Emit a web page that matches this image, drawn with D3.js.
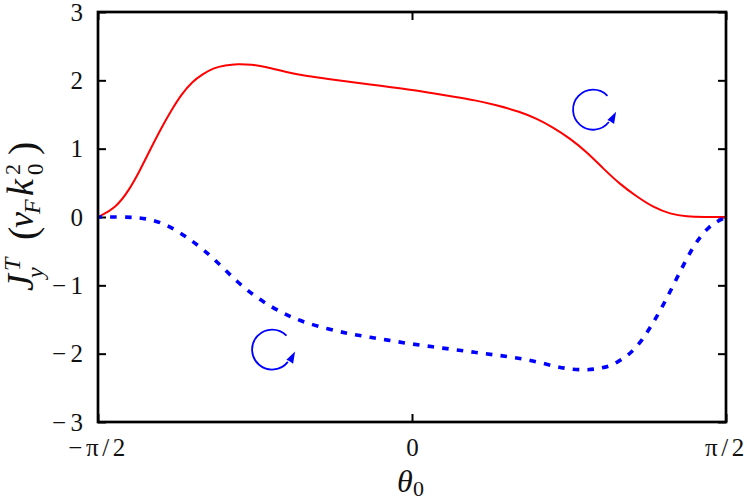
<!DOCTYPE html>
<html><head><meta charset="utf-8">
<script src="https://cdn.jsdelivr.net/npm/d3@7"></script>
<style>html,body{margin:0;background:#fff}svg{display:block}text{font-family:"Liberation Serif",serif;fill:#111}</style>
</head><body><svg id="c" width="747" height="501"></svg>
<script>
const redTheta=[-90,-85,-81,-78,-75,-72,-69,-66,-63,-60,-57,-53.5,-50,-46,-42,-36,-30,-24,-18,-12,-6,0,6,12,18,24,31,35.7,40.5,45.3,50.1,54.8,59.6,64.4,69.2,74,78.7,84,90];
const redCurve=[0,.127,.4,.68,.99,1.29,1.56,1.8,1.98,2.09,2.18,2.22,2.24,2.23,2.2,2.12,2.06,2.02,1.98,1.94,1.9,1.86,1.81,1.76,1.71,1.64,1.54,1.44,1.31,1.15,.95,.71,.48,.30,.14,.044,.005,0,0];
const blueTheta=[-90,-84,-78.7,-74,-69.2,-64.4,-59.6,-54.8,-50.1,-45.3,-40.5,-35.7,-31,-24,-18,-12,-6,0,6,12,18,24,30,36,42,46,50,53.5,57,60,63,66,69,72,75,78,81,85,90];
const blueCurve=[0,0,-.005,-.044,-.14,-.3,-.48,-.71,-.95,-1.15,-1.31,-1.44,-1.54,-1.64,-1.71,-1.76,-1.81,-1.86,-1.9,-1.94,-1.98,-2.02,-2.06,-2.12,-2.2,-2.23,-2.24,-2.22,-2.18,-2.09,-1.98,-1.8,-1.56,-1.29,-.99,-.68,-.4,-.127,0];
const yTicks=[-3,-2,-1,0,1,2,3];
const xTicks=[-90,0,90];
const xTickLabels=["\u2212\u03c0/2","0","\u03c0/2"];
const rotationMarks=[[51.9,1.57],[-40.1,-1.94]];
const svg=d3.select("#c");
const m={l:98,r:726,t:12,b:422};
const x=d3.scaleLinear().domain([-90,90]).range([m.l,m.r]);
const y=d3.scaleLinear().domain([-3,3]).range([m.b,m.t]);
const ax=svg.append("g").attr("transform",`translate(${m.l},0)`).call(d3.axisLeft(y).tickValues(yTicks).tickSize(-8).tickFormat(d=>d<0?"\u2212"+(-d):d).tickPadding(15));
const rx=svg.append("g").attr("transform",`translate(${m.r},0)`).call(d3.axisRight(y).tickValues(yTicks).tickSize(-8).tickFormat(""));
const bx=svg.append("g").attr("transform",`translate(0,${m.b})`).call(d3.axisBottom(x).tickValues(xTicks).tickSize(-8).tickFormat((d,i)=>xTickLabels[i]).tickPadding(16.5));
const tx=svg.append("g").attr("transform",`translate(0,${m.t})`).call(d3.axisTop(x).tickValues(xTicks).tickSize(-8).tickFormat(""));
[ax,rx,bx,tx].forEach(g=>{g.select(".domain").remove();g.selectAll("line").attr("stroke","#000").attr("stroke-width",2);g.selectAll("text").attr("font-size",25).attr("font-family","Liberation Serif").attr("fill","#111")});
ax.selectAll("text").filter(d=>d<0).attr("letter-spacing",4.5).attr("dx",4.5);
bx.selectAll("text").attr("letter-spacing",(d,i)=>i==1?0:3.6);
const lineOf=t=>d3.line().x((d,i)=>x(t[i])).y(d=>y(d)).curve(d3.curveBasis);
svg.append("path").datum(redCurve).attr("d",lineOf(redTheta)).attr("fill","none").attr("stroke","#f00").attr("stroke-width",2);
svg.append("path").datum(blueCurve).attr("d",lineOf(blueTheta)).attr("fill","none").attr("stroke","#00f").attr("stroke-width",3.6).attr("stroke-dasharray","6.5 8.2").attr("stroke-dashoffset",2.5);
svg.append("rect").attr("x",m.l).attr("y",m.t).attr("width",m.r-m.l).attr("height",m.b-m.t).attr("fill","none").attr("stroke","#000").attr("stroke-width",2.7);
// rotation arrows
const rm=svg.selectAll("g.rot").data(rotationMarks).join("g").attr("class","rot").attr("transform",d=>`translate(${x(d[0])},${y(d[1])})`);
const arc=d3.arc().innerRadius(20).outerRadius(20);
rm.append("path").attr("d",arc({startAngle:46*Math.PI/180,endAngle:-232*Math.PI/180})).attr("fill","none").attr("stroke","#00f").attr("stroke-width",1.8);
rm.append("path").attr("d","M23,2L21,14.3L17,11.5L14.3,10.3Z").attr("fill","#00f");
// axis titles: [glyph, size, italic, distance along axis, offset across axis]
const yLabelGlyphs=[["J",38,1,2,0],["y",24,1,15,10],["T",24,1,22,-13],["(",40,0,53,3],["v",36,1,65,0],["F",24,1,79,7],["k",38,1,97,0],["0",23,0,118,10],["2",22,0,118,-13],[")",40,0,138,3]];
const yl=svg.append("text").attr("transform","translate(33,293) rotate(-90)");
yl.selectAll("tspan").data(yLabelGlyphs).join("tspan").attr("x",d=>d[3]).attr("y",d=>d[4]).attr("font-size",d=>d[1]).attr("font-style",d=>d[2]?"italic":"normal").text(d=>d[0]);
const xl=svg.append("text");
xl.append("tspan").attr("x",397).attr("y",492).attr("font-size",32).attr("font-style","italic").text("\u03b8");
xl.append("tspan").attr("x",413).attr("y",496).attr("font-size",22).text("0");
</script></body></html>
